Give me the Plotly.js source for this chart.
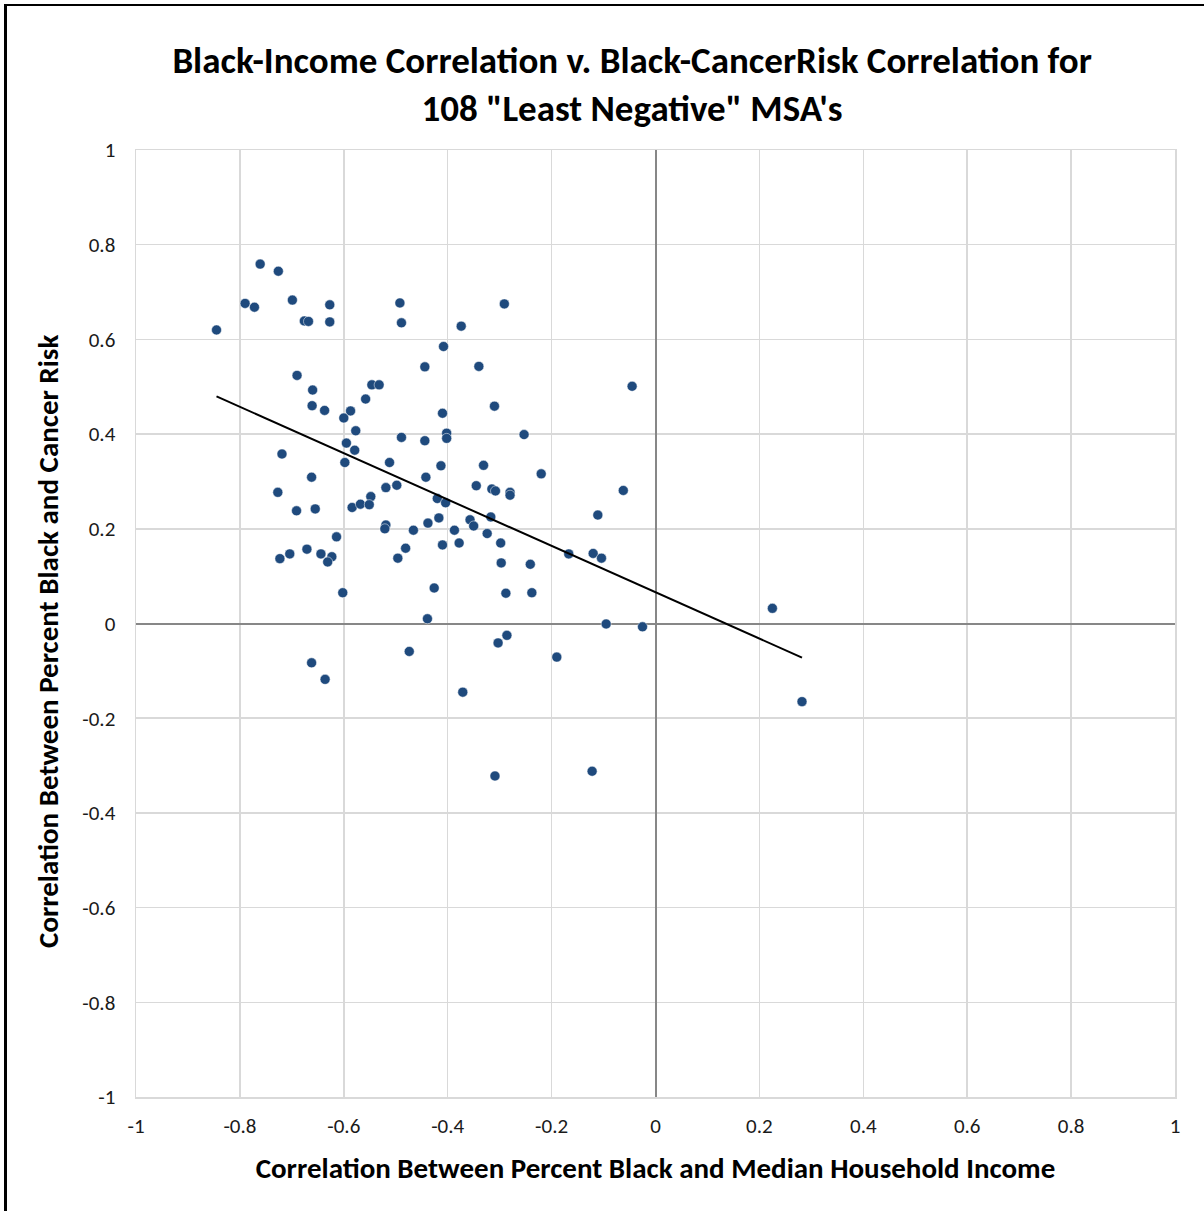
<!DOCTYPE html>
<html>
<head>
<meta charset="utf-8">
<script src="https://cdn.plot.ly/plotly-3.0.1.min.js"></script>
<style>
html,body{margin:0;padding:0;background:#fff;}
#wrap{position:relative;width:1204px;height:1211px;}
#chart{position:absolute;left:0;top:0;width:1204px;height:1211px;}
#frame{position:absolute;left:4px;top:4px;right:0;bottom:0;border-top:2px solid #000;border-left:3px solid #000;pointer-events:none;}
</style>
</head>
<body>
<div id="wrap"><div id="chart"></div><div id="frame"></div></div>
<script>
// Correlation between percent Black and median household income (x)
const incomeCorr = [
 -0.761,-0.726,-0.790,-0.772,-0.699,-0.627,-0.676,-0.668,-0.627,-0.492,
 -0.489,-0.845,-0.408,-0.444,-0.690,-0.660,-0.546,-0.532,-0.558,-0.661,
 -0.637,-0.587,-0.600,-0.410,-0.577,-0.489,-0.444,-0.402,-0.402,-0.595,
 -0.579,-0.719,-0.598,-0.512,-0.413,-0.662,-0.442,-0.519,-0.498,-0.727,
 -0.420,-0.404,-0.548,-0.584,-0.568,-0.551,-0.691,-0.655,-0.417,-0.438,
 -0.519,-0.521,-0.466,-0.410,-0.614,-0.481,-0.496,-0.671,-0.704,-0.723,
 -0.644,-0.623,-0.631,-0.426,-0.602,-0.439,-0.474,-0.662,-0.636,-0.291,
 -0.374,-0.340,-0.045,-0.310,-0.253,-0.331,-0.220,-0.062,-0.345,-0.315,
 -0.308,-0.280,-0.280,-0.357,-0.350,-0.317,-0.387,-0.111,-0.324,-0.298,
 -0.378,-0.167,-0.120,-0.104,-0.297,-0.241,-0.288,-0.238,-0.095,-0.025,
 -0.286,-0.303,-0.190,-0.371,-0.309,-0.122,0.225,0.282
];
// Correlation between percent Black and cancer risk (y)
const cancerCorr = [
 0.759,0.744,0.676,0.668,0.683,0.673,0.639,0.638,0.637,0.677,
 0.635,0.620,0.585,0.542,0.524,0.493,0.504,0.504,0.474,0.460,
 0.450,0.449,0.434,0.444,0.407,0.393,0.386,0.402,0.391,0.381,
 0.366,0.358,0.340,0.340,0.333,0.309,0.309,0.287,0.292,0.277,
 0.264,0.255,0.268,0.245,0.252,0.251,0.238,0.242,0.223,0.212,
 0.208,0.200,0.197,0.166,0.183,0.159,0.138,0.157,0.147,0.137,
 0.147,0.141,0.130,0.075,0.065,0.010,-0.059,-0.083,-0.118,0.675,
 0.628,0.543,0.501,0.459,0.399,0.334,0.316,0.281,0.291,0.284,
 0.280,0.277,0.271,0.219,0.206,0.225,0.197,0.229,0.190,0.170,
 0.170,0.147,0.148,0.138,0.128,0.125,0.064,0.065,-0.001,-0.007,
 -0.025,-0.041,-0.071,-0.145,-0.322,-0.312,0.032,-0.165
];
const xTickVals = [-1,-0.8,-0.6,-0.4,-0.2,0,0.2,0.4,0.6,0.8,1];
const xTickText = ["-1","-0.8","-0.6","-0.4","-0.2","0","0.2","0.4","0.6","0.8","1"];
const yTickVals = [-1,-0.8,-0.6,-0.4,-0.2,0,0.2,0.4,0.6,0.8,1];
const yTickText = ["-1","-0.8","-0.6","-0.4","-0.2","0","0.2","0.4","0.6","0.8","1"];

// Linear trendline (least squares) over the data range
const n = incomeCorr.length;
let sx=0, sy=0, sxx=0, sxy=0;
for (let i=0;i<n;i++){const a=incomeCorr[i], b=cancerCorr[i]; sx+=a; sy+=b; sxx+=a*a; sxy+=a*b;}
const slope = (n*sxy - sx*sy)/(n*sxx - sx*sx);
const intercept = (sy - slope*sx)/n;
const xMin = Math.min(...incomeCorr), xMax = Math.max(...incomeCorr);

const FONT = "Carlito, Calibri, 'Liberation Sans Narrow', 'Open Sans', sans-serif";

const data = [
 {
  type:'scatter', mode:'markers', x:incomeCorr, y:cancerCorr,
  marker:{color:'#1f4a7d', size:10, line:{color:'#ffffff', width:0.5}},
  hoverinfo:'x+y', showlegend:false
 },
 {
  type:'scatter', mode:'lines', x:[xMin,xMax], y:[intercept+slope*xMin, intercept+slope*xMax],
  line:{color:'#000000', width:2}, hoverinfo:'skip', showlegend:false
 }
];

const axisCommon = {
  range:[-1,1], tickmode:'array', showgrid:true, gridcolor:'#d9d9d9', gridwidth:1.5,
  zeroline:true, zerolinecolor:'#878787', zerolinewidth:2,
  showline:true, linecolor:'#d9d9d9', linewidth:1.5, mirror:true,
  ticks:'', tickfont:{family:FONT, size:21, color:'#1a1a1a'}, fixedrange:true
};

const layout = {
  width:1204, height:1211,
  margin:{l:136, r:29, t:150, b:114},
  paper_bgcolor:'#ffffff', plot_bgcolor:'#ffffff',
  font:{family:FONT},
  title:{
    text:'Black-Income Correlation v. Black-CancerRisk Correlation for<br>108 "Least Negative" MSA\'s',
    font:{family:FONT, size:37, color:'#000000', weight:'bold'},
    x:0.525, xanchor:'center', y:0.9395, yanchor:'middle'
  },
  xaxis:Object.assign({}, axisCommon, {
    tickvals:xTickVals, ticktext:xTickText, ticklabelstandoff:9,
    title:{text:'Correlation Between Percent Black and Median Household Income',
      font:{family:FONT, size:29, color:'#000000', weight:'bold'}, standoff:20}
  }),
  yaxis:Object.assign({}, axisCommon, {
    tickvals:yTickVals, ticktext:yTickText, ticklabelstandoff:15
  }),
  annotations:[{
    text:'Correlation Between Percent Black and Cancer Risk',
    xref:'paper', yref:'paper', x:0, y:0.4805, xanchor:'center', yanchor:'middle',
    xshift:-88, textangle:-90, showarrow:false,
    font:{family:FONT, size:29, color:'#000000', weight:'bold'}
  }]
};

Plotly.newPlot('chart', data, layout, {displayModeBar:false, staticPlot:true});
</script>
</body>
</html>
